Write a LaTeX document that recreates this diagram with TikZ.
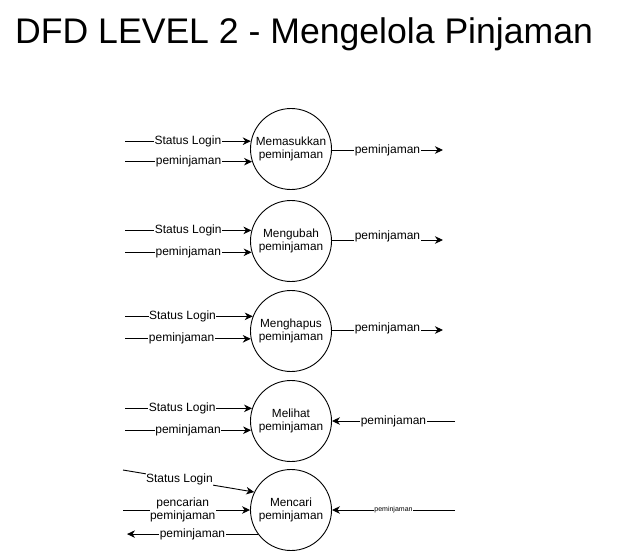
\documentclass[tikz,border=0pt]{standalone}
\usepackage{fontspec}
\setmainfont{Liberation Sans}
\usepackage{tikz}
\usetikzlibrary{arrows.meta}

\begin{document}
\begin{tikzpicture}[
			     x=1pt, y=-1pt,
			     proses/.style={draw, circle, line width=0.9pt, minimum size=81pt, inner sep=0pt, align=center, font=\fontsize{11.8}{13.5}\selectfont},
			     lbl/.style={fill=white, inner sep=0.5pt, font=\fontsize{12}{13.5}\selectfont},
			     lblkecil/.style={fill=white, inner sep=0.5pt, font=\fontsize{7}{8}\selectfont},
			     flow/.style={-{Stealth[length=8pt,width=7.5pt,inset=2.5pt]}, line width=0.9pt}
			     ] 
\useasboundingbox (0,0) rectangle (621,552);
\node[anchor=base west, inner sep=0pt, font=\fontsize{35.6}{40}\selectfont] (judul) at (15,43) {DFD LEVEL 2 - Mengelola Pinjaman};
%
\node[proses] (masuk) at (291,149) {Memasukkan\\peminjaman};
\node[proses] (ubah) at (291,241) {Mengubah\\peminjaman};
\node[proses] (hapus) at (291,331) {Menghapus\\peminjaman};
\node[proses] (lihat) at (291,421) {Melihat\\peminjaman};
\node[proses] (cari) at (291,510) {Mencari\\peminjaman};
%
\coordinate (sl1) at (masuk.169 -| 125,0);
\coordinate (pm1) at (masuk.198.5 -| 125,0);
\coordinate (out1) at (443,150);
\coordinate (sl2) at (ubah.165.5 -| 125,0);
\coordinate (pm2) at (ubah.196 -| 125,0);
\coordinate (out2) at (443,240);
\coordinate (sl3) at (hapus.159.5 -| 125,0);
\coordinate (pm3) at (hapus.191.5 -| 125,0);
\coordinate (out3) at (443,330);
\coordinate (sl4) at (lihat.162.5 -| 125,0);
\coordinate (pm4) at (lihat.193 -| 125,0);
\coordinate (in4) at (455,421);
\coordinate (sl5) at (123,470);
\coordinate (pc5) at (123,510);
\coordinate (out5) at (cari.216 -| 127,0);
\coordinate (in5) at (455,510);
%
\path (sl1) edge[flow] node[lbl] {Status Login} (masuk.169);
\path (pm1) edge[flow] node[lbl] {peminjaman} (masuk.198.5);
\path (masuk.east |- out1) edge[flow] node[lbl] {peminjaman} (out1);
%
\path (sl2) edge[flow] node[lbl] {Status Login} (ubah.165.5);
\path (pm2) edge[flow] node[lbl] {peminjaman} (ubah.196);
\path (ubah.east |- out2) edge[flow] node[lbl, yshift=4pt] {peminjaman} (out2);
%
\path (sl3) edge[flow] node[lbl, pos=0.45] {Status Login} (hapus.159.5);
\path (pm3) edge[flow] node[lbl, pos=0.45] {peminjaman} (hapus.191.5);
\path (hapus.east |- out3) edge[flow] node[lbl, yshift=2pt] {peminjaman} (out3);
%
\path (sl4) edge[flow] node[lbl, pos=0.45] {Status Login} (lihat.162.5);
\path (pm4) edge[flow] node[lbl] {peminjaman} (lihat.193);
\path (in4) edge[flow] node[lbl] {peminjaman} (lihat.east);
%
\path (sl5) edge[flow] node[lbl, pos=0.43] {Status Login} (cari.154.7);
\path (pc5) edge[flow] node[lbl, align=center, pos=0.47] {pencarian\\peminjaman} (cari.west);
\path (cari.216) edge[flow] node[lbl] {peminjaman} (out5);
\path (in5) edge[flow] node[lblkecil] {peminjaman} (cari.east);
\end{tikzpicture}
\end{document}
